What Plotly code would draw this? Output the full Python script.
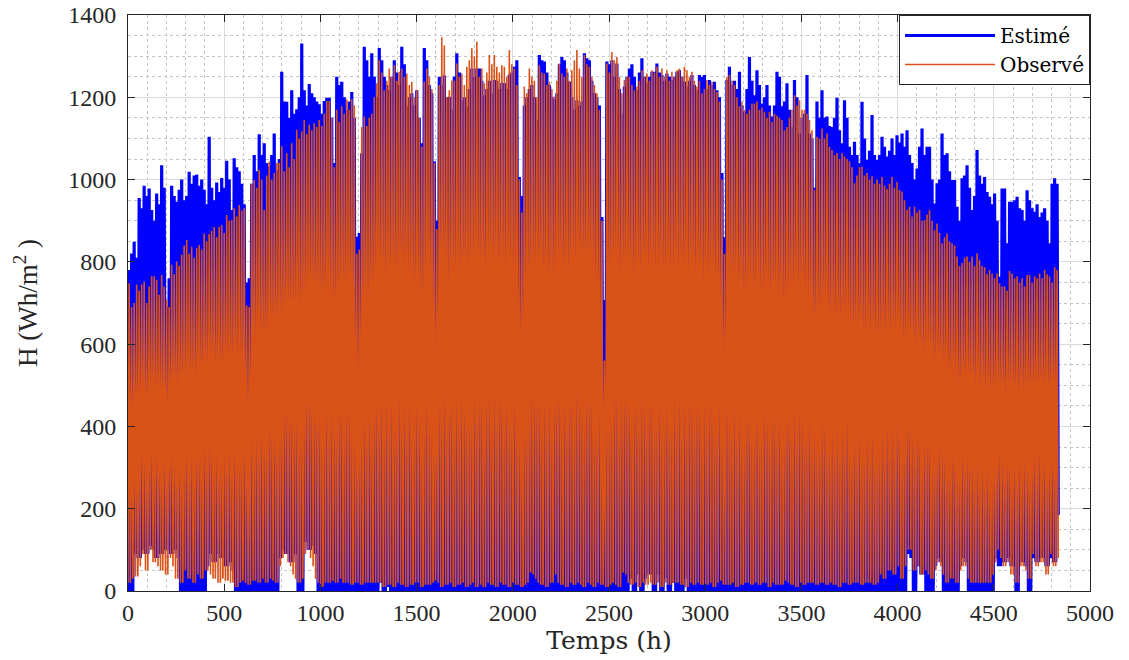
import plotly.graph_objects as go

# ---------------- data ----------------
# Hourly daytime series: one block of 13 hourly steps per day, 372 days.
HOURS_PER_DAY = 13
PEAK_OFFSET = 6

# daily peak of the estimated irradiance (Wh/m2)
estime_peak = [
    780, 820, 849, 810, 955, 930, 985, 960, 978, 926,
    900, 966, 940, 1035, 980, 690, 760, 985, 960, 946,
    975, 1000, 950, 960, 1019, 990, 1010, 1012, 985, 1000,
    975, 940, 1104, 980, 950, 993, 970, 1004, 980, 1046,
    1000, 926, 1052, 1030, 1020, 990, 940, 750, 760, 990,
    1060, 1020, 1110, 1060, 1088, 1040, 1031, 1060, 1112, 1023,
    1050, 1262, 1190, 1189, 1150, 1217, 1160, 1171, 1200, 1331,
    1217, 1180, 1232, 1210, 1200, 1190, 1183, 1160, 1191, 1199,
    1199, 1150, 1040, 1250, 1230, 1238, 1200, 1170, 1190, 1213,
    1150, 861, 870, 1064, 1323, 1290, 1250, 1307, 1250, 1200,
    1320, 1290, 1250, 1230, 1217, 1250, 1290, 1260, 1230, 1323,
    1280, 1178, 1200, 1210, 1180, 1217, 1150, 1088, 1320, 1290,
    1230, 1210, 1044, 900, 1250, 1230, 1253, 1200, 1201, 1170,
    1250, 1307, 1260, 1193, 1200, 1178, 1220, 1270, 1250, 1270,
    1270, 1240, 1205, 1220, 1240, 1210, 1242, 1240, 1220, 1235,
    1235, 1220, 1255, 1260, 1274, 1290, 1006, 960, 1180, 1200,
    1220, 1230, 1200, 1145, 1303, 1290, 1287, 1260, 1230, 1201,
    1195, 1210, 1280, 1298, 1290, 1260, 1238, 1200, 1170, 1193,
    1180, 1190, 1307, 1295, 1290, 1240, 1210, 1200, 1180, 909,
    707, 1287, 1280, 1290, 1250, 1282, 1220, 1160, 1226, 1250,
    1270, 1280, 1250, 1217, 1260, 1295, 1250, 1234, 1250, 1262,
    1262, 1282, 1260, 1254, 1240, 1258, 1250, 1242, 1250, 1262,
    1266, 1250, 1238, 1226, 1240, 1254, 1230, 1217, 1254, 1250,
    1254, 1220, 1242, 1230, 1238, 1217, 1200, 1016, 860, 1242,
    1274, 1230, 1240, 1220, 1262, 1180, 1165, 1220, 1298, 1240,
    1205, 1266, 1230, 1185, 1200, 1230, 1180, 1153, 1180, 1262,
    1250, 1178, 1190, 1234, 1170, 1128, 1242, 1200, 1112, 1150,
    1160, 1254, 1112, 1100, 980, 1190, 1150, 1217, 1150, 1153,
    1130, 1128, 1150, 1199, 1120, 1088, 1193, 1150, 1080, 1060,
    1092, 1060, 1040, 1189, 1100, 1048, 1070, 1157, 1060, 1048,
    1060, 1104, 1080, 1056, 1070, 1100, 1060, 1108, 1090, 1112,
    1080, 1120, 1060, 1040, 1000, 1027, 1080, 1124, 1060, 1080,
    1080, 1000, 942, 991, 1000, 1112, 1060, 1064, 1020, 999,
    999, 934, 900, 1003, 1010, 1035, 980, 926, 960, 1072,
    1010, 990, 1006, 970, 958, 940, 966, 900, 764, 978,
    978, 845, 946, 946, 950, 958, 930, 926, 900, 974,
    950, 930, 922, 940, 909, 920, 930, 900, 845, 990,
    1003, 990,
]

# daily low (sunrise / sunset value) of the estimated irradiance
estime_low = [
    0, 0, 90, 110, 80, 120, 100, 90, 110, 130,
    100, 80, 120, 90, 110, 100, 130, 90, 110, 100,
    80, 0, 0, 40, 0, 60, 0, 0, 0, 20,
    0, 60, 90, 100, 70, 120, 90, 80, 100, 60,
    90, 70, 50, 0, 0, 30, 0, 0, 10, 0,
    0, 40, 0, 0, 20, 0, 0, 0, 30, 0,
    80, 100, 120, 90, 110, 70, 100, 90, 0, 0,
    120, 140, 100, 130, 110, 90, 0, 0, 0, 20,
    0, 0, 40, 0, 0, 0, 60, 0, 0, 0,
    0, 30, 0, 0, 0, 20, 0, 0, 0, 0,
    30, 20, 0, 40, 10, 0, 0, 30, 0, 0,
    0, 10, 0, 0, 20, 0, 0, 0, 30, 0,
    0, 0, 20, 0, 0, 0, 10, 0, 0, 0,
    0, 20, 0, 0, 0, 0, 30, 0, 0, 0,
    0, 0, 10, 0, 0, 0, 0, 20, 0, 0,
    0, 0, 0, 10, 0, 0, 0, 0, 0, 10,
    0, 0, 0, 0, 0, 20, 0, 0, 0, 0,
    0, 0, 0, 0, 10, 0, 0, 0, 0, 0,
    0, 10, 0, 0, 0, 0, 0, 20, 0, 0,
    0, 0, 0, 10, 0, 0, 0, 0, 0, 0,
    30, 40, 0, 50, 40, 0, 30, 60, 40, 50,
    0, 40, 50, 0, 40, 30, 0, 50, 20, 0,
    40, 0, 30, 40, 0, 20, 0, 0, 30, 0,
    0, 20, 0, 0, 30, 0, 0, 40, 0, 0,
    0, 0, 30, 0, 40, 0, 0, 10, 0, 20,
    0, 0, 40, 0, 0, 10, 0, 0, 20, 0,
    0, 30, 0, 0, 10, 0, 0, 0, 20, 0,
    0, 0, 10, 0, 0, 20, 0, 0, 0, 10,
    0, 0, 0, 20, 0, 0, 0, 0, 10, 0,
    0, 0, 20, 0, 0, 0, 10, 0, 0, 0,
    0, 0, 20, 0, 0, 10, 0, 0, 0, 30,
    0, 90, 100, 80, 0, 60, 90, 40, 70, 0,
    30, 0, 60, 80, 100, 70, 0, 20, 0, 40,
    0, 0, 60, 90, 80, 70, 0, 0, 30, 0,
    0, 40, 0, 0, 20, 0, 80, 100, 60, 90,
    70, 90, 80, 60, 100, 0, 80, 70, 90, 60,
    0, 80, 90, 70, 100, 80, 90, 60, 80, 90,
    70, 185,
]

# daily peak of the observed irradiance (Wh/m2)
observe_peak = [
    748, 690, 700, 745, 730, 745, 752, 700, 740, 765,
    765, 756, 720, 768, 740, 707, 690, 793, 770, 801,
    790, 817, 840, 853, 820, 837, 810, 833, 841, 830,
    869, 850, 868, 875, 885, 860, 885, 889, 870, 914,
    900, 902, 930, 910, 938, 925, 930, 694, 690, 990,
    999, 980, 1023, 1000, 926, 1010, 1044, 1000, 1016, 1040,
    1040, 1081, 1020, 1064, 1030, 1088, 1050, 1121, 1100, 1117,
    1145, 1110, 1133, 1120, 1137, 1128, 1145, 1130, 1160, 1191,
    1191, 1150, 1030, 1170, 1140, 1178, 1160, 1195, 1170, 1195,
    1180, 820, 830, 1128, 1153, 1130, 1150, 1160, 1200, 1234,
    1290, 1260, 1217, 1240, 1270, 1250, 1278, 1240, 1262, 1270,
    1250, 1258, 1230, 1238, 1200, 1217, 1150, 1080, 1238, 1270,
    1250, 1220, 1040, 880, 1230, 1346, 1326, 1200, 1217, 1241,
    1241, 1282, 1250, 1258, 1230, 1274, 1290, 1319, 1300, 1335,
    1250, 1270, 1234, 1260, 1303, 1280, 1303, 1274, 1260, 1278,
    1274, 1250, 1315, 1280, 1270, 1230, 1000, 920, 1226, 1210,
    1270, 1250, 1240, 1200, 1278, 1260, 1258, 1230, 1238, 1220,
    1201, 1240, 1282, 1258, 1250, 1270, 1240, 1266, 1290, 1315,
    1270, 1250, 1303, 1280, 1274, 1250, 1230, 1210, 1170, 900,
    560, 1282, 1260, 1310, 1290, 1298, 1250, 1210, 1242, 1250,
    1250, 1230, 1217, 1226, 1240, 1266, 1250, 1258, 1240, 1266,
    1260, 1274, 1250, 1270, 1250, 1266, 1240, 1262, 1250, 1266,
    1270, 1250, 1274, 1266, 1250, 1262, 1240, 1226, 1240, 1210,
    1220, 1242, 1230, 1238, 1220, 1213, 1190, 1000, 820, 1250,
    1255, 1240, 1230, 1200, 1178, 1190, 1170, 1160, 1170, 1185,
    1185, 1190, 1170, 1175, 1165, 1150, 1165, 1140, 1160, 1155,
    1150, 1145, 1120, 1128, 1150, 1170, 1205, 1180, 1193, 1170,
    1170, 1160, 1145, 1120, 975, 1104, 1100, 1124, 1100, 1112,
    1080, 1072, 1060, 1064, 1050, 1064, 1056, 1050, 1044, 1030,
    991, 1010, 1030, 1031, 1010, 1016, 1000, 1008, 990, 1000,
    990, 1006, 985, 977, 990, 1006, 980, 995, 975, 971,
    950, 926, 934, 910, 934, 920, 926, 900, 902, 915,
    926, 900, 877, 893, 870, 845, 860, 869, 850, 845,
    840, 813, 790, 797, 810, 813, 800, 813, 790, 821,
    805, 790, 787, 770, 780, 772, 760, 772, 748, 740,
    740, 730, 778, 772, 760, 765, 750, 760, 740, 768,
    768, 750, 765, 760, 772, 760, 780, 770, 765, 750,
    787, 780,
]

# daily low (sunrise / sunset value) of the observed irradiance
observe_low = [
    20, 30, 40, 35, 60, 130, 90, 50, 100, 120,
    70, 110, 60, 50, 120, 40, 90, 80, 60, 30,
    40, 20, 50, 60, 30, 50, 20, 60, 40, 30,
    70, 50, 90, 40, 30, 60, 20, 30, 40, 25,
    30, 20, 30, 10, 20, 25, 30, 20, 15, 30,
    25, 30, 20, 40, 30, 20, 35, 30, 25, 20,
    60, 80, 100, 90, 70, 60, 40, 30, 20, 30,
    90, 110, 100, 80, 60, 30, 20, 10, 20, 30,
    20, 30, 25, 20, 40, 30, 20, 30, 20, 15,
    20, 30, 20, 15, 25, 20, 30, 20, 25, 20,
    20, 30, 10, 20, 15, 25, 10, 20, 30, 15,
    20, 10, 25, 15, 20, 35, 20, 10, 15, 20,
    15, 20, 25, 45, 20, 10, 20, 15, 25, 20,
    10, 20, 15, 25, 20, 10, 15, 20, 25, 10,
    20, 15, 10, 25, 20, 15, 20, 10, 35, 20,
    15, 20, 10, 20, 25, 15, 20, 10, 15, 20,
    45, 50, 40, 30, 20, 15, 20, 10, 25, 20,
    45, 40, 20, 15, 20, 10, 25, 20, 15, 20,
    20, 15, 10, 25, 20, 15, 10, 20, 25, 15,
    20, 10, 15, 20, 25, 15, 10, 50, 45, 40,
    20, 15, 25, 20, 10, 30, 20, 15, 25, 20,
    15, 20, 25, 10, 20, 30, 15, 20, 25, 20,
    25, 15, 20, 10, 25, 20, 15, 25, 20, 15,
    20, 15, 25, 20, 10, 20, 60, 25, 15, 20,
    15, 20, 25, 10, 20, 15, 20, 25, 20, 15,
    20, 25, 15, 20, 40, 20, 10, 25, 20, 15,
    20, 15, 25, 45, 20, 15, 20, 10, 25, 20,
    15, 20, 25, 20, 70, 15, 20, 25, 20, 15,
    20, 25, 15, 20, 10, 25, 20, 110, 15, 20,
    25, 20, 50, 15, 20, 25, 20, 50, 15, 20,
    40, 60, 30, 90, 50, 70, 40, 100, 60, 30,
    60, 110, 100, 100, 50, 80, 60, 40, 70, 50,
    40, 30, 50, 70, 90, 60, 40, 20, 30, 40,
    30, 20, 50, 80, 60, 70, 30, 20, 20, 30,
    20, 30, 20, 30, 20, 40, 70, 100, 124, 80,
    60, 90, 70, 40, 90, 20, 70, 60, 100, 50,
    30, 90, 110, 60, 120, 70, 80, 40, 90, 100,
    60, 80,
]

x_ticks = [0, 500, 1000, 1500, 2000, 2500, 3000, 3500, 4000, 4500, 5000]
y_ticks = [0, 200, 400, 600, 800, 1000, 1200, 1400]


def build_series(peaks, lows):
    n = min(len(peaks), len(lows))
    xs, ys = [], []
    for k in range(n):
        t0 = k * HOURS_PER_DAY
        xs += [t0, t0 + PEAK_OFFSET, t0 + HOURS_PER_DAY - 1]
        ys += [lows[k], peaks[k], lows[k]]
    return xs, ys


xe, ye = build_series(estime_peak, estime_low)
xo, yo = build_series(observe_peak, observe_low)

SERIF = "Liberation Serif, Times New Roman, serif"
WIDE_SERIF = "DejaVu Serif, serif"
AX = "#262626"

fig = go.Figure()
fig.add_trace(go.Scatter(x=xe, y=ye, mode="lines", name="Estimé",
                         line=dict(color="#0000FF", width=3.2)))
fig.add_trace(go.Scatter(x=xo, y=yo, mode="lines", name="Observé",
                         line=dict(color="#D95319", width=1.6)))

axis_common = dict(
    showline=True, linecolor=AX, linewidth=1, mirror="ticks",
    ticks="inside", ticklen=7, tickcolor=AX, tickwidth=1,
    showgrid=True, gridcolor="#dadada", gridwidth=1,
    zeroline=False, automargin=False,
    tickfont=dict(family=SERIF, size=24, color=AX),
)

fig.update_xaxes(
    range=[0, 5000], tickvals=x_ticks, ticktext=[str(v) for v in x_ticks],
    minor=dict(dtick=100, tick0=0, showgrid=True, gridcolor="#c4c4c4",
               griddash="dot", gridwidth=1),
    title=dict(text="Temps (h)", font=dict(family=WIDE_SERIF, size=25, color=AX),
               standoff=6),
    **axis_common,
)
fig.update_yaxes(
    range=[0, 1400], tickvals=y_ticks, ticktext=[str(v) for v in y_ticks],
    minor=dict(dtick=50, tick0=0, showgrid=True, gridcolor="#c4c4c4",
               griddash="dot", gridwidth=1),
    title=dict(text="H (Wh/m<sup>2</sup> )",
               font=dict(family=SERIF, size=27, color=AX), standoff=22),
    ticklabelstandoff=6,
    **axis_common,
)

fig.update_layout(
    width=1129, height=660,
    margin=dict(l=128, r=39, t=15, b=69),
    paper_bgcolor="white", plot_bgcolor="white",
    showlegend=True,
    legend=dict(x=1, y=1, xanchor="right", yanchor="top",
                bgcolor="white", bordercolor=AX, borderwidth=1,
                font=dict(family=WIDE_SERIF, size=20, color="#000000"),
                itemwidth=90, tracegroupgap=0),
)

fig.write_html("out.html")
